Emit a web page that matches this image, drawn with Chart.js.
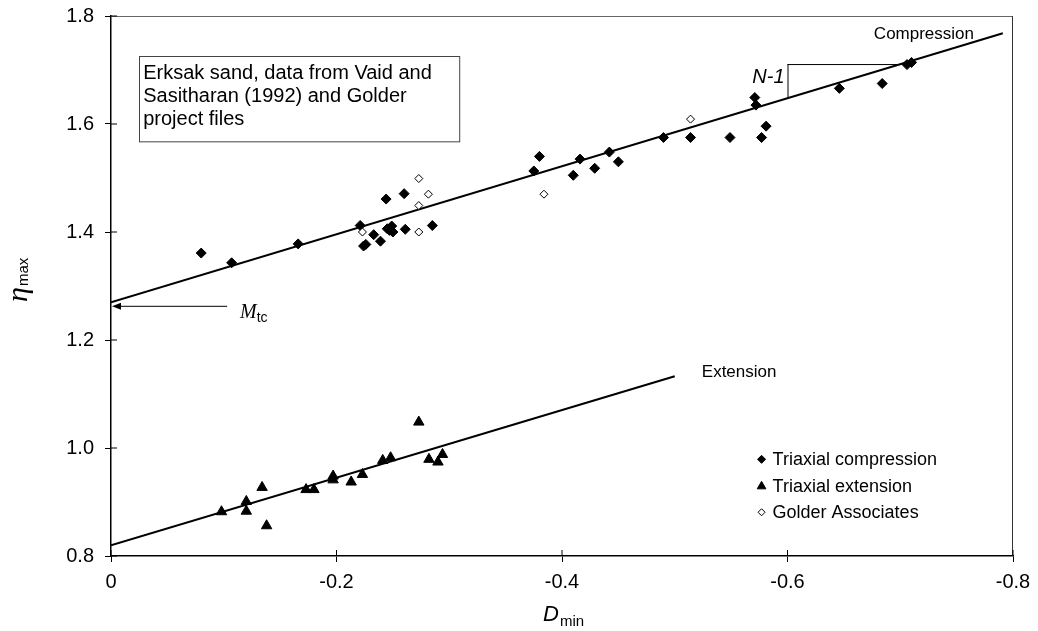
<!DOCTYPE html>
<html>
<head>
<meta charset="utf-8">
<script src="https://cdn.jsdelivr.net/npm/chart.js@4.4.1/dist/chart.umd.min.js"></script>
<style>
  html, body { margin: 0; padding: 0; background: #fff; }
  #wrap { width: 1038px; height: 631px; }
</style>
</head>
<body>
<div id="wrap"><canvas id="chart" width="1038" height="631"></canvas></div>
<script>
// Erksak sand, values (D_min vs eta_max)
const compD = [-0.080, -0.107, -0.166, -0.221, -0.224, -0.226, -0.233, -0.239, -0.244, -0.245,
  -0.249, -0.250, -0.247, -0.260, -0.261, -0.285, -0.375, -0.380, -0.410, -0.416,
  -0.429, -0.442, -0.450, -0.490, -0.514, -0.549, -0.571, -0.572, -0.577, -0.581,
  -0.646, -0.684, -0.706, -0.710];
const compEta = [1.361, 1.343, 1.378, 1.412, 1.374, 1.377, 1.395, 1.383, 1.461, 1.406,
  1.411, 1.400, 1.403, 1.471, 1.405, 1.412, 1.513, 1.540, 1.505, 1.535,
  1.518, 1.548, 1.530, 1.575, 1.575, 1.575, 1.649, 1.635, 1.575, 1.596,
  1.666, 1.675, 1.710, 1.714];

const extD = [-0.098, -0.120, -0.120, -0.134, -0.138, -0.173, -0.180, -0.197, -0.197, -0.213,
  -0.223, -0.241, -0.248, -0.273, -0.282, -0.290, -0.294];
const extEta = [0.882, 0.901, 0.883, 0.927, 0.856, 0.923, 0.923, 0.948, 0.941, 0.937,
  0.951, 0.977, 0.982, 1.048, 0.979, 0.974, 0.988];

const golderD = [-0.223, -0.273, -0.2815, -0.273, -0.273, -0.384, -0.514];
const golderEta = [1.400, 1.499, 1.470, 1.449, 1.400, 1.470, 1.609];

// fitted lines (end points)
const compLineD = [0, -0.791];
const compLineEta = [1.27, 1.768];
const extLineD = [0, -0.50];
const extLineEta = [0.82, 1.133];

const xTickValues = [-0.8, -0.6, -0.4, -0.2, 0];
const xTickLabels = ['-0.8', '-0.6', '-0.4', '-0.2', '0'];
const yTickValues = [0.8, 1.0, 1.2, 1.4, 1.6, 1.8];
const yTickLabels = ['0.8', '1.0', '1.2', '1.4', '1.6', '1.8'];

const legendNames = ['Triaxial compression', 'Triaxial extension', 'Golder Associates'];

const FONT = "'Liberation Sans', Arial, sans-serif";

const pts = (xs, ys) => xs.map((x, i) => ({ x: x, y: ys[i] }));

const markerStyles = [
  { pointStyle: 'rectRot', radius: 4, fill: '#000' },
  { pointStyle: 'triangle', radius: 5, fill: '#000' },
  { pointStyle: 'rectRot', radius: 3.5, fill: '#fff' }
];

function line(ctx, x1, y1, x2, y2) {
  ctx.beginPath();
  ctx.moveTo(x1, y1);
  ctx.lineTo(x2, y2);
  ctx.stroke();
}

const extras = {
  id: 'extras',
  afterDraw(chart) {
    const ctx = chart.ctx;
    const a = chart.chartArea;
    const xs = chart.scales.x;
    const ys = chart.scales.y;
    const px = v => xs.getPixelForValue(v);
    const py = v => ys.getPixelForValue(v);

    ctx.save();
    // frame: top and right
    ctx.strokeStyle = '#666';
    ctx.lineWidth = 1;
    line(ctx, a.left, a.top + 0.5, a.right, a.top + 0.5);
    ctx.strokeStyle = '#333';
    line(ctx, a.right - 0.5, a.top, a.right - 0.5, a.bottom);

    // inner halves of the tick marks
    ctx.strokeStyle = '#000';
    xs.ticks.forEach(t => line(ctx, px(t.value), a.bottom, px(t.value), a.bottom - 6));
    ys.ticks.forEach(t => line(ctx, a.left, py(t.value), a.left + 6, py(t.value)));

    // text box
    const bx1 = px(-0.025), bx2 = px(-0.309), by1 = py(1.725), by2 = py(1.567);
    ctx.strokeStyle = '#444';
    ctx.lineWidth = 1;
    ctx.strokeRect(Math.round(bx1) + 0.5, Math.round(by1) + 0.5, bx2 - bx1, by2 - by1);
    ctx.fillStyle = '#000';
    ctx.font = '20px ' + FONT;
    ctx.textAlign = 'left';
    ctx.textBaseline = 'alphabetic';
    ['Erksak sand, data from Vaid and', 'Sasitharan (1992) and Golder', 'project files']
      .forEach((s, i) => ctx.fillText(s, bx1 + 4, by1 + 22 + i * 23.3));

    // N-1 slope bracket
    ctx.lineWidth = 1;
    ctx.strokeStyle = '#000';
    line(ctx, px(-0.6) + 0.5, py(1.648), px(-0.6) + 0.5, py(1.711));
    line(ctx, px(-0.6), py(1.711) + 0.5, px(-0.7), py(1.711) + 0.5);
    ctx.font = 'italic 20px ' + FONT;
    ctx.textAlign = 'right';
    ctx.textBaseline = 'middle';
    ctx.fillText('N-1', px(-0.6) - 3, py(1.686));

    // line labels
    ctx.font = '17px ' + FONT;
    ctx.textAlign = 'center';
    ctx.fillText('Compression', px(-0.721), py(1.767));
    ctx.textAlign = 'left';
    ctx.fillText('Extension', px(-0.524), py(1.140));

    // M_tc arrow
    const ay = py(1.2624);
    line(ctx, px(-0.103), ay, a.left + 8, ay);
    ctx.beginPath();
    ctx.moveTo(a.left + 1, ay);
    ctx.lineTo(a.left + 10, ay - 3.5);
    ctx.lineTo(a.left + 10, ay + 3.5);
    ctx.closePath();
    ctx.fill();
    ctx.font = "italic 20px 'Liberation Serif', 'Times New Roman', serif";
    ctx.textAlign = 'left';
    ctx.textBaseline = 'alphabetic';
    const mx = px(-0.1144);
    ctx.fillText('M', mx, ay + 12);
    const mw = ctx.measureText('M').width;
    ctx.font = '14px ' + FONT;
    ctx.fillText('tc', mx + mw, ay + 16);

    // legend
    const lx = px(-0.577);
    const rows = [0.979, 0.929, 0.881];
    ctx.font = '18px ' + FONT;
    ctx.textBaseline = 'middle';
    rows.forEach((r, i) => {
      const m = markerStyles[i];
      const y = py(r);
      ctx.fillStyle = m.fill;
      ctx.strokeStyle = '#000';
      ctx.lineWidth = 1;
      Chart.helpers.drawPoint(ctx, { pointStyle: m.pointStyle, radius: m.radius, rotation: 0, borderWidth: 1 }, lx, y);
      ctx.fillStyle = '#000';
      ctx.fillText(legendNames[i], lx + 11, y + 1);
    });

    // axis titles
    ctx.fillStyle = '#000';
    ctx.textAlign = 'left';
    ctx.textBaseline = 'alphabetic';
    ctx.font = "italic 22px 'Liberation Sans', Arial, sans-serif";
    ctx.fillText('D', 543, 621);
    const dw = ctx.measureText('D').width;
    ctx.font = '15px ' + FONT;
    ctx.fillText('min', 543 + dw + 1, 626);

    ctx.translate(27, 302);
    ctx.rotate(-Math.PI / 2);
    ctx.font = "italic 30px 'Liberation Serif', 'Times New Roman', serif";
    ctx.fillText('\u03b7', 0, 0);
    const ew = ctx.measureText('\u03b7').width;
    ctx.font = '15px ' + FONT;
    ctx.fillText('max', ew + 1, 1);
    ctx.restore();
  }
};

new Chart(document.getElementById('chart'), {
  type: 'scatter',
  data: {
    datasets: [
      {
        label: legendNames[2],
        data: pts(golderD, golderEta),
        pointStyle: 'rectRot',
        pointRadius: 4,
        pointBackgroundColor: '#fff',
        pointBorderColor: '#000',
        pointBorderWidth: 1
      },
      {
        label: legendNames[0],
        data: pts(compD, compEta),
        pointStyle: 'rectRot',
        pointRadius: 5,
        pointBackgroundColor: '#000',
        pointBorderColor: '#000',
        pointBorderWidth: 1
      },
      {
        label: legendNames[1],
        data: pts(extD, extEta),
        pointStyle: 'triangle',
        pointRadius: 6,
        pointBackgroundColor: '#000',
        pointBorderColor: '#000',
        pointBorderWidth: 1
      },
      {
        label: 'Compression fit',
        data: pts(compLineD, compLineEta),
        showLine: true,
        pointRadius: 0,
        borderColor: '#000',
        borderWidth: 2
      },
      {
        label: 'Extension fit',
        data: pts(extLineD, extLineEta),
        showLine: true,
        pointRadius: 0,
        borderColor: '#000',
        borderWidth: 2
      }
    ]
  },
  options: {
    responsive: false,
    animation: false,
    layout: { padding: { left: 0, right: 25, top: 16, bottom: 0 } },
    plugins: {
      legend: { display: false },
      tooltip: { enabled: false }
    },
    scales: {
      x: {
        type: 'linear',
        reverse: true,
        min: -0.8,
        max: 0,
        afterBuildTicks: s => { s.ticks = xTickValues.map(v => ({ value: v })); },
        afterFit: s => { s.height = 75; s.paddingLeft = 0; s.paddingRight = 0; },
        grid: { drawOnChartArea: false, tickLength: 6, color: '#000' },
        border: { color: '#000', width: 1.5 },
        ticks: {
          color: '#000',
          padding: 8,
          maxRotation: 0,
          font: { family: FONT, size: 20 },
          callback: (v, i) => xTickLabels[i]
        }
      },
      y: {
        type: 'linear',
        min: 0.8,
        max: 1.8,
        afterBuildTicks: s => { s.ticks = yTickValues.map(v => ({ value: v })); },
        afterFit: s => { s.width = 111; s.paddingTop = 0; s.paddingBottom = 0; },
        grid: { drawOnChartArea: false, tickLength: 6, color: '#000' },
        border: { color: '#000', width: 1.5 },
        ticks: {
          color: '#000',
          padding: 11,
          font: { family: FONT, size: 20 },
          callback: (v, i) => yTickLabels[i]
        }
      }
    }
  },
  plugins: [extras]
});
</script>
</body>
</html>
